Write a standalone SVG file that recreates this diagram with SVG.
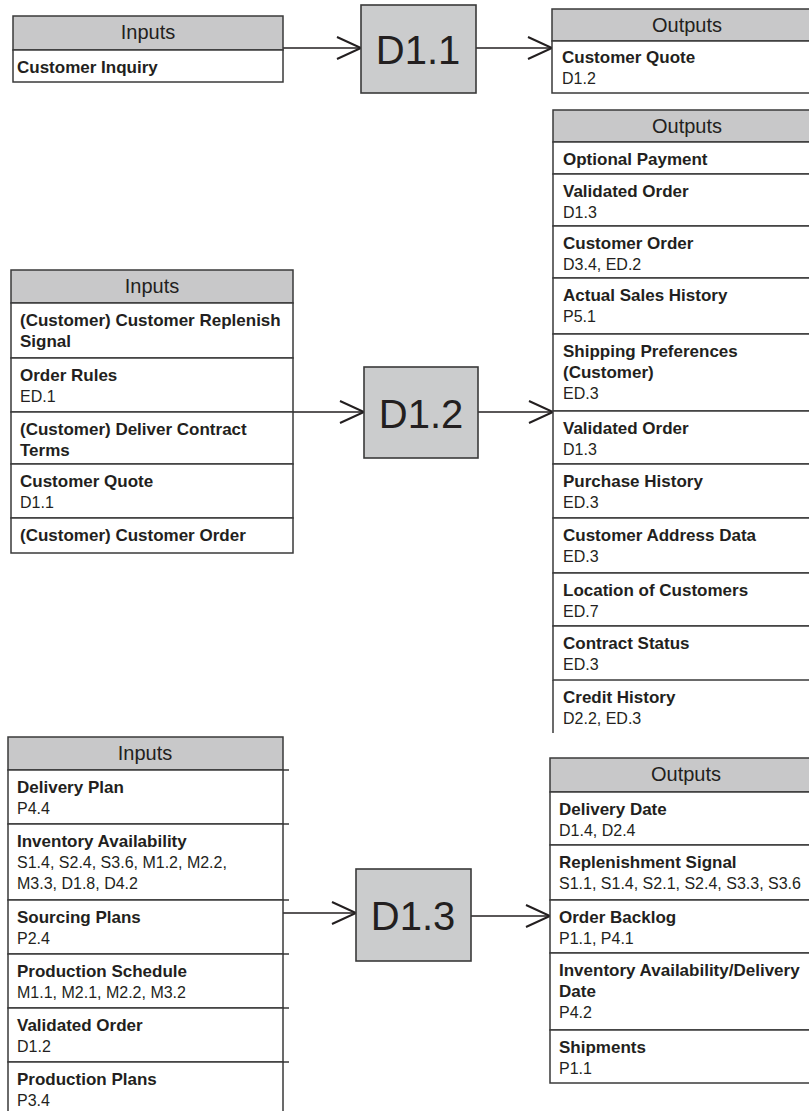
<svg xmlns="http://www.w3.org/2000/svg" width="809" height="1111" viewBox="0 0 809 1111">
<defs>
<style>
.hdr{fill:#c8c8c9;stroke:#3a3a3a;stroke-width:1.5}
.cell{fill:#ffffff;stroke:#3a3a3a;stroke-width:1.5}
.edge{fill:none;stroke:#3a3a3a;stroke-width:1.5}
.proc{fill:#cbcccd;stroke:#3a3a3a;stroke-width:1.6}
.h{font-family:"Liberation Sans",Arial,sans-serif;font-size:20px;fill:#231f20;text-anchor:middle}
.t{font-family:"Liberation Sans",Arial,sans-serif;font-size:17px;font-weight:bold;fill:#231f20}
.c{font-family:"Liberation Sans",Arial,sans-serif;font-size:16px;font-weight:normal;fill:#231f20}
.p{font-family:"Liberation Sans",Arial,sans-serif;font-size:40px;fill:#231f20;text-anchor:middle}
.ln{fill:none;stroke:#231f20;stroke-width:1.5;marker-end:url(#chev)}
</style>
<marker id="chev" viewBox="-3 -3 30 28" markerWidth="30" markerHeight="28" refX="24" refY="11" orient="auto" markerUnits="userSpaceOnUse">
<path d="M0,0 L24,11 L0,22" fill="none" stroke="#231f20" stroke-width="2"/>
</marker>
</defs>
<rect width="809" height="1111" fill="#ffffff"/>

<g id="connectors">
<path class="ln" d="M283,48 H361"/>
<path class="ln" d="M476,48 H552"/>
<path class="ln" d="M293,412 H364"/>
<path class="ln" d="M478,412 H553"/>
<path class="ln" d="M283,913 H356"/>
<path class="ln" d="M471,916 H550"/>
</g>

<g id="inputs-d11">
<rect class="hdr" x="13" y="16" width="270" height="34"/>
<rect class="cell" x="13" y="50" width="270" height="32"/>
<text class="h" x="148" y="39">Inputs</text>
<text class="t" x="17" y="73">Customer Inquiry</text>
</g>

<g id="d11">
<rect class="proc" x="361" y="5" width="115" height="88"/>
<text class="p" x="418" y="64">D1.1</text>
</g>

<g id="outputs-d11">
<rect class="hdr" x="552" y="9" width="270" height="32"/>
<rect class="cell" x="552" y="41" width="270" height="52"/>
<text class="h" x="687" y="32">Outputs</text>
<text class="t" x="562" y="63">Customer Quote</text>
<text class="c" x="562" y="84">D1.2</text>
</g>

<g id="inputs-d12">
<rect class="hdr" x="11" y="270" width="282" height="33"/>
<rect class="cell" x="11" y="303" width="282" height="55"/>
<rect class="cell" x="11" y="358" width="282" height="54"/>
<rect class="cell" x="11" y="412" width="282" height="52"/>
<rect class="cell" x="11" y="464" width="282" height="54"/>
<rect class="cell" x="11" y="518" width="282" height="35"/>
<text class="h" x="152" y="293">Inputs</text>
<text class="t" x="20" y="326">(Customer) Customer Replenish<tspan x="20" dy="21">Signal</tspan></text>
<text class="t" x="20" y="381">Order Rules</text>
<text class="c" x="20" y="402">ED.1</text>
<text class="t" x="20" y="435">(Customer) Deliver Contract<tspan x="20" dy="21">Terms</tspan></text>
<text class="t" x="20" y="487">Customer Quote</text>
<text class="c" x="20" y="508">D1.1</text>
<text class="t" x="20" y="541">(Customer) Customer Order</text>
</g>

<g id="d12">
<rect class="proc" x="364" y="367" width="114" height="91"/>
<text class="p" x="421" y="428">D1.2</text>
</g>

<g id="outputs-d12">
<rect class="hdr" x="553" y="110" width="269" height="32"/>
<rect class="cell" x="553" y="142" width="269" height="32"/>
<rect class="cell" x="553" y="174" width="269" height="52"/>
<rect class="cell" x="553" y="226" width="269" height="52"/>
<rect class="cell" x="553" y="278" width="269" height="56"/>
<rect class="cell" x="553" y="334" width="269" height="77"/>
<rect class="cell" x="553" y="411" width="269" height="53"/>
<rect class="cell" x="553" y="464" width="269" height="54"/>
<rect class="cell" x="553" y="518" width="269" height="55"/>
<rect class="cell" x="553" y="573" width="269" height="53"/>
<rect class="cell" x="553" y="626" width="269" height="54"/>
<path class="edge" d="M553,680 V733"/>
<text class="h" x="687" y="133">Outputs</text>
<text class="t" x="563" y="165">Optional Payment</text>
<text class="t" x="563" y="197">Validated Order</text>
<text class="c" x="563" y="218">D1.3</text>
<text class="t" x="563" y="249">Customer Order</text>
<text class="c" x="563" y="270">D3.4, ED.2</text>
<text class="t" x="563" y="301">Actual Sales History</text>
<text class="c" x="563" y="322">P5.1</text>
<text class="t" x="563" y="357">Shipping Preferences<tspan x="563" dy="21">(Customer)</tspan></text>
<text class="c" x="563" y="399">ED.3</text>
<text class="t" x="563" y="434">Validated Order</text>
<text class="c" x="563" y="455">D1.3</text>
<text class="t" x="563" y="487">Purchase History</text>
<text class="c" x="563" y="508">ED.3</text>
<text class="t" x="563" y="541">Customer Address Data</text>
<text class="c" x="563" y="562">ED.3</text>
<text class="t" x="563" y="596">Location of Customers</text>
<text class="c" x="563" y="617">ED.7</text>
<text class="t" x="563" y="649">Contract Status</text>
<text class="c" x="563" y="670">ED.3</text>
<text class="t" x="563" y="703">Credit History</text>
<text class="c" x="563" y="724">D2.2, ED.3</text>
</g>

<g id="inputs-d13">
<rect class="hdr" x="8" y="737" width="275" height="33"/>
<rect class="cell" x="8" y="770" width="275" height="54"/>
<rect class="cell" x="8" y="824" width="275" height="76"/>
<rect class="cell" x="8" y="900" width="275" height="54"/>
<rect class="cell" x="8" y="954" width="275" height="54"/>
<rect class="cell" x="8" y="1008" width="275" height="54"/>
<rect class="cell" x="8" y="1062" width="275" height="60"/>
<path class="edge" d="M283,770 H289 M283,824 H289 M283,900 H289 M283,954 H289 M283,1008 H289 M283,1062 H289"/>
<text class="h" x="145" y="760">Inputs</text>
<text class="t" x="17" y="793">Delivery Plan</text>
<text class="c" x="17" y="814">P4.4</text>
<text class="t" x="17" y="847">Inventory Availability</text>
<text class="c" x="17" y="868">S1.4, S2.4, S3.6, M1.2, M2.2,<tspan x="17" dy="21">M3.3, D1.8, D4.2</tspan></text>
<text class="t" x="17" y="923">Sourcing Plans</text>
<text class="c" x="17" y="944">P2.4</text>
<text class="t" x="17" y="977">Production Schedule</text>
<text class="c" x="17" y="998">M1.1, M2.1, M2.2, M3.2</text>
<text class="t" x="17" y="1031">Validated Order</text>
<text class="c" x="17" y="1052">D1.2</text>
<text class="t" x="17" y="1085">Production Plans</text>
<text class="c" x="17" y="1106">P3.4</text>
</g>

<g id="d13">
<rect class="proc" x="356" y="869" width="115" height="92"/>
<text class="p" x="413" y="930">D1.3</text>
</g>

<g id="outputs-d13">
<rect class="hdr" x="550" y="758" width="272" height="34"/>
<rect class="cell" x="550" y="792" width="272" height="53"/>
<rect class="cell" x="550" y="845" width="272" height="55"/>
<rect class="cell" x="550" y="900" width="272" height="53"/>
<rect class="cell" x="550" y="953" width="272" height="77"/>
<rect class="cell" x="550" y="1030" width="272" height="53"/>
<text class="h" x="686" y="781">Outputs</text>
<text class="t" x="559" y="815">Delivery Date</text>
<text class="c" x="559" y="836">D1.4, D2.4</text>
<text class="t" x="559" y="868">Replenishment Signal</text>
<text class="c" x="559" y="889">S1.1, S1.4, S2.1, S2.4, S3.3, S3.6</text>
<text class="t" x="559" y="923">Order Backlog</text>
<text class="c" x="559" y="944">P1.1, P4.1</text>
<text class="t" x="559" y="976">Inventory Availability/Delivery<tspan x="559" dy="21">Date</tspan></text>
<text class="c" x="559" y="1018">P4.2</text>
<text class="t" x="559" y="1053">Shipments</text>
<text class="c" x="559" y="1074">P1.1</text>
</g>
</svg>
